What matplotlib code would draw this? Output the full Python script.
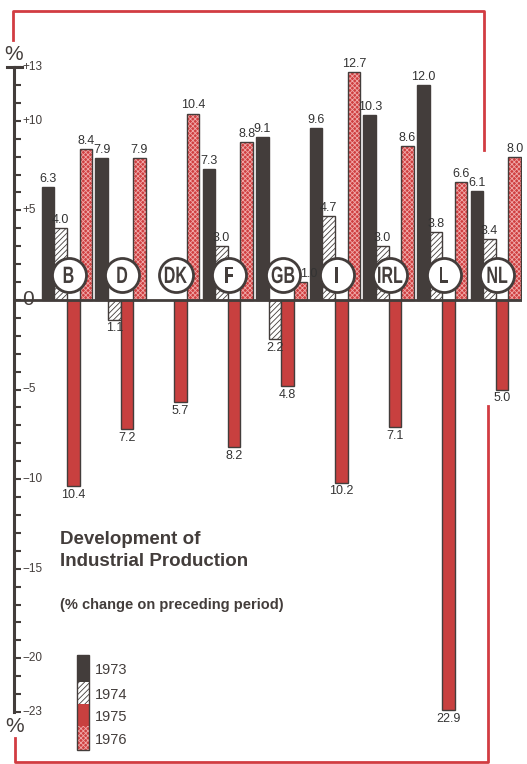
import numpy as np
import matplotlib.pyplot as plt
import matplotlib.transforms as mtransforms
from matplotlib.patches import Rectangle, PathPatch
from matplotlib.lines import Line2D
from matplotlib.textpath import TextPath
from matplotlib.font_manager import FontProperties

# Industrial production, % change on preceding period
countries = ['B', 'D', 'DK', 'F', 'GB', 'I', 'IRL', 'L', 'NL']
p1973 = [6.3, 7.9, np.nan, 7.3, 9.1, 9.6, 10.3, 12.0, 6.1]
p1974 = [4.0, -1.1, np.nan, 3.0, -2.2, 4.7, 3.0, 3.8, 3.4]
p1975 = [-10.4, -7.2, -5.7, -8.2, -4.8, -10.2, -7.1, -22.9, -5.0]
p1976 = [8.4, 7.9, 10.4, 8.8, 1.0, 12.7, 8.6, 6.6, 8.0]
years = ['1973', '1974', '1975', '1976']
ytick_vals = [13, 10, 5, 0, -5, -10, -15, -20, -23]
ytick_text = ['+13', '+10', '+5', '0', '\u22125', '\u221210', '\u221215', '\u221220', '\u221223']

DARK = '#433d3b'
RED = '#c8403f'
RED2 = '#cf3f40'
DOTS = '#f0a8a8'
FRAME = '#d23c42'
HATCH74 = '//////'
HATCH76 = 'xxxxxxx'

plt.rcParams['font.family'] = ['Liberation Sans', 'DejaVu Sans']
plt.rcParams['hatch.linewidth'] = 0.6

W, H = 527, 764
fig = plt.figure(figsize=(W / 100, H / 100), dpi=100)

def fx(px):
    return px / W

def fy(py):
    return 1 - py / H

ax = fig.add_axes([fx(14), fy(712), fx(522) - fx(14), fy(67) - fy(712)])
ax.set_ylim(-23, 13)
ax.set_xlim(-0.989, 8.489)

x = np.arange(len(countries))
w = 0.235

# bars
ax.bar(x - 1.5 * w, p1973, w, color=DARK, edgecolor=DARK, lw=1, zorder=2)
ax.bar(x - 0.5 * w, p1974, w, color='white', edgecolor=DARK, hatch=HATCH74, lw=0, zorder=2)
ax.bar(x - 0.5 * w, p1974, w, fill=False, edgecolor=DARK, lw=1, zorder=2)
ax.bar(x + 0.5 * w, p1975, w, color=RED, edgecolor=DARK, lw=1, zorder=2)
ax.bar(x + 1.5 * w, p1976, w, color=RED2, edgecolor=DOTS, hatch=HATCH76, lw=0, zorder=2)
ax.bar(x + 1.5 * w, p1976, w, fill=False, edgecolor=DARK, lw=1, zorder=2)

# value labels
for off, series in zip([-1.5, -0.5, 0.5, 1.5], [p1973, p1974, p1975, p1976]):
    for xi, v in zip(x, series):
        if np.isnan(v):
            continue
        if v >= 0:
            dx = 6 if v < 2 else 0   # the GB 1.0 label sits beside the circle
            ax.annotate(f'{v:.1f}', (xi + off * w, v), xytext=(dx, 1.5),
                        textcoords='offset points', ha='center', va='bottom',
                        fontsize=9, color='#333333', zorder=3)
        else:
            ax.annotate(f'{-v:.1f}', (xi + off * w, v), xytext=(0, -2),
                        textcoords='offset points', ha='center', va='top',
                        fontsize=9, color='#333333', zorder=3)

# country circles with narrow bold letters
cy = 1.4
ax.scatter(x + 0.03, np.full(len(x), cy), s=600, facecolor='white',
           edgecolor=DARK, linewidth=2, zorder=4)
fp = FontProperties(family='Liberation Sans', weight='bold')
pt = fig.dpi / 72
for xi, c in zip(x, countries):
    tp = TextPath((0, 0), c, size=17, prop=fp)
    bb = tp.get_extents()
    tr = (mtransforms.Affine2D()
          .translate(-(bb.x0 + bb.x1) / 2, -(bb.y0 + bb.y1) / 2)
          .scale(0.68 * pt, pt)
          + mtransforms.ScaledTranslation(xi + 0.03, cy, ax.transData))
    ax.add_patch(PathPatch(tp, transform=tr, facecolor=DARK, lw=0, zorder=5))

# zero line and axis
ax.axhline(0, color=DARK, lw=2, zorder=3)
for s in ['top', 'right', 'bottom']:
    ax.spines[s].set_visible(False)
ax.spines['left'].set_linewidth(2.2)
ax.spines['left'].set_color(DARK)
ax.set_xticks([])
ax.set_yticks(np.arange(-23, 14))
ax.tick_params(axis='y', direction='in', length=5, width=1.5, color=DARK,
               labelleft=False)
ax.plot([-0.014, 0.016], [13, 13], transform=ax.get_yaxis_transform(),
        color=DARK, lw=2.2, clip_on=False)

lab_tr = ax.get_yaxis_transform() + mtransforms.ScaledTranslation(6 / 72, 0, fig.dpi_scale_trans)
for v, s in zip(ytick_vals, ytick_text):
    ax.text(0, v, s, transform=lab_tr, ha='left', va='center',
            fontsize=15 if v == 0 else 8.5, color=DARK)

fig.text(fx(14), fy(54), '%', ha='center', va='center', fontsize=15, color=DARK)
fig.text(fx(15), fy(726), '%', ha='center', va='center', fontsize=15, color=DARK)

# titles
fig.text(fx(60), fy(539), 'Development of', fontsize=13.5, fontweight='bold',
         color=DARK, va='center')
fig.text(fx(60), fy(562), 'Industrial Production', fontsize=13.5,
         fontweight='bold', color=DARK, va='center')
fig.text(fx(60), fy(605), '(% change on preceding period)', fontsize=10.5,
         fontweight='bold', color=DARK, va='center')

# legend strip
seg = [(655, 682), (682, 704), (704, 726), (726, 750)]
styles = [dict(facecolor=DARK, edgecolor=DARK, lw=0),
          dict(facecolor='white', edgecolor=DARK, hatch=HATCH74, lw=0),
          dict(facecolor=RED, edgecolor=RED, lw=0),
          dict(facecolor=RED2, edgecolor=DOTS, hatch=HATCH76, lw=0)]
for (top, bot), st in zip(seg, styles):
    fig.add_artist(Rectangle((fx(77), fy(bot)), fx(89) - fx(77), fy(top) - fy(bot),
                             transform=fig.transFigure, **st))
fig.add_artist(Rectangle((fx(77), fy(750)), fx(89) - fx(77), fy(655) - fy(750),
                         transform=fig.transFigure, fill=False, edgecolor=DARK, lw=1))
for (top, bot), yr in zip(seg, years):
    fig.text(fx(95), fy((top + bot) / 2 + 2), yr, fontsize=10.5, color=DARK, va='center')

# red frame pieces
fig.add_artist(Line2D([fx(13), fx(13), fx(484), fx(484)], [fy(40), fy(11), fy(11), fy(150)],
                      transform=fig.transFigure, color=FRAME, lw=2))
fig.add_artist(Line2D([fx(15), fx(15), fx(488), fx(488)], [fy(738), fy(762), fy(762), fy(406)],
                      transform=fig.transFigure, color=FRAME, lw=2))

fig.savefig('out.png', dpi=100)
